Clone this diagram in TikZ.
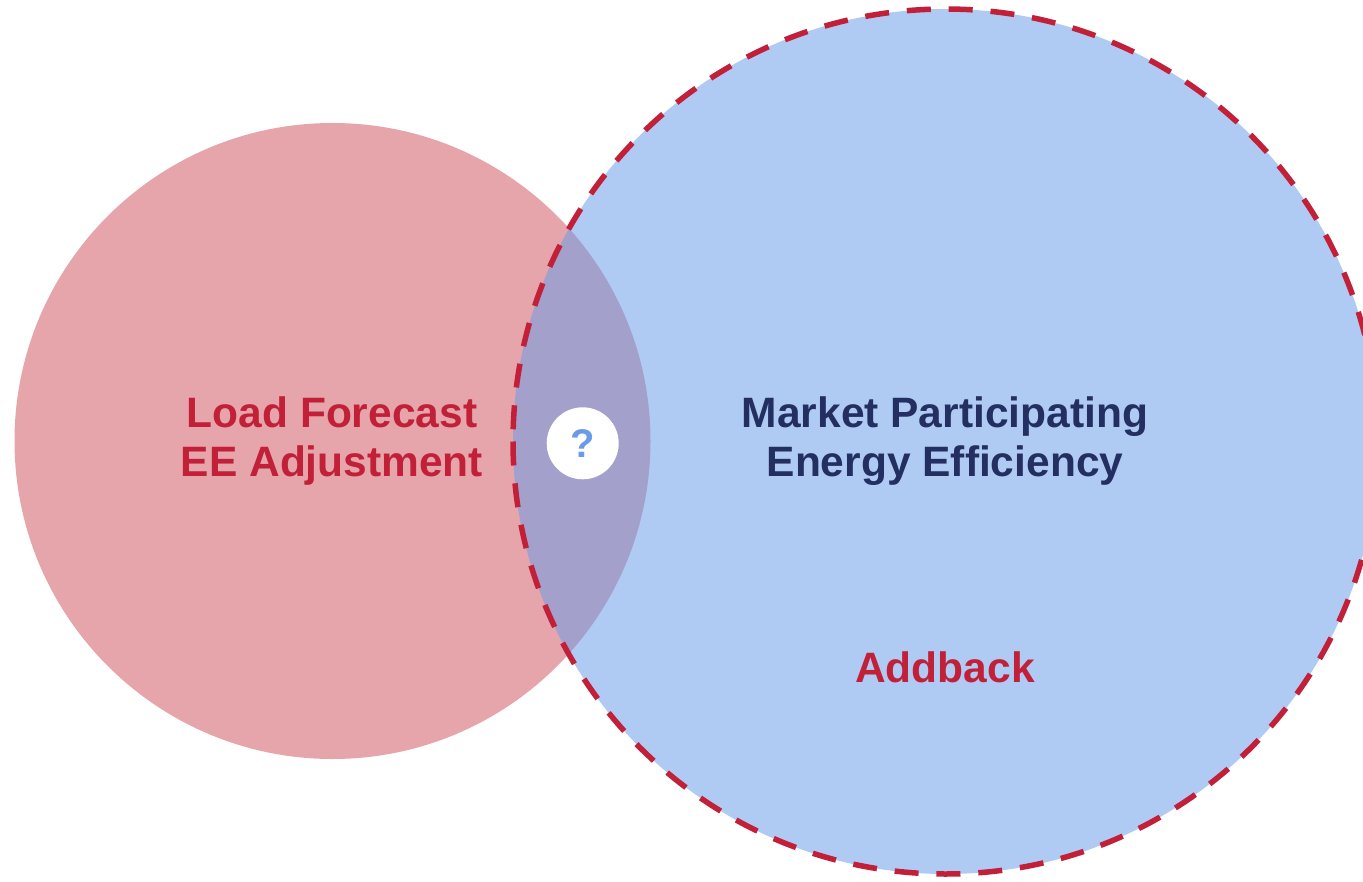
\documentclass[tikz,border=0pt]{standalone}
\usepackage{fontspec}
\setmainfont{Liberation Sans}
\definecolor{pinkfill}{RGB}{230,165,171}
\definecolor{bluebase}{RGB}{105,156,233}
\definecolor{ringred}{RGB}{193,32,56}
\definecolor{navytext}{RGB}{34,47,96}
\definecolor{qblue}{RGB}{107,155,232}
\begin{document}
\begin{tikzpicture}[x=1pt,y=-1pt,
  lbl/.style={font=\fontsize{42.5}{48.3}\selectfont\bfseries, align=center, inner sep=0pt},
  ring/.style={draw=ringred, line width=5.5pt, dash pattern=on 24pt off 17.9pt}
]
\useasboundingbox (0,0) rectangle (1363,881);
\begin{scope}
\clip (0,0) rectangle (1363,881);
% left circle (load forecast)
\fill[pinkfill] (332.5,441) circle[radius=318];
% right circle (market participating EE), translucent
\fill[bluebase, fill opacity=0.53] (945.5,441.5) circle[radius=432.5];
\path[ring] (945.5,441.5) ++(180:432.5) arc[start angle=180, end angle=-180, radius=432.5];
\end{scope}
% labels
\node[lbl, text=ringred, anchor=base] (lf) at (332,476) {Load Forecast\\EE Adjustment};
\node[lbl, text=navytext, anchor=base] (mp) at (945,476) {Market Participating\\Energy Efficiency};
\node[lbl, text=ringred, anchor=base] (ab) at (945,682) {Addback};
\node[circle, fill=white, minimum size=72pt, inner sep=0pt, text=qblue,
      font=\fontsize{40}{40}\selectfont\bfseries] (q) at (582.7,443.3) {?};
\end{tikzpicture}
\end{document}
